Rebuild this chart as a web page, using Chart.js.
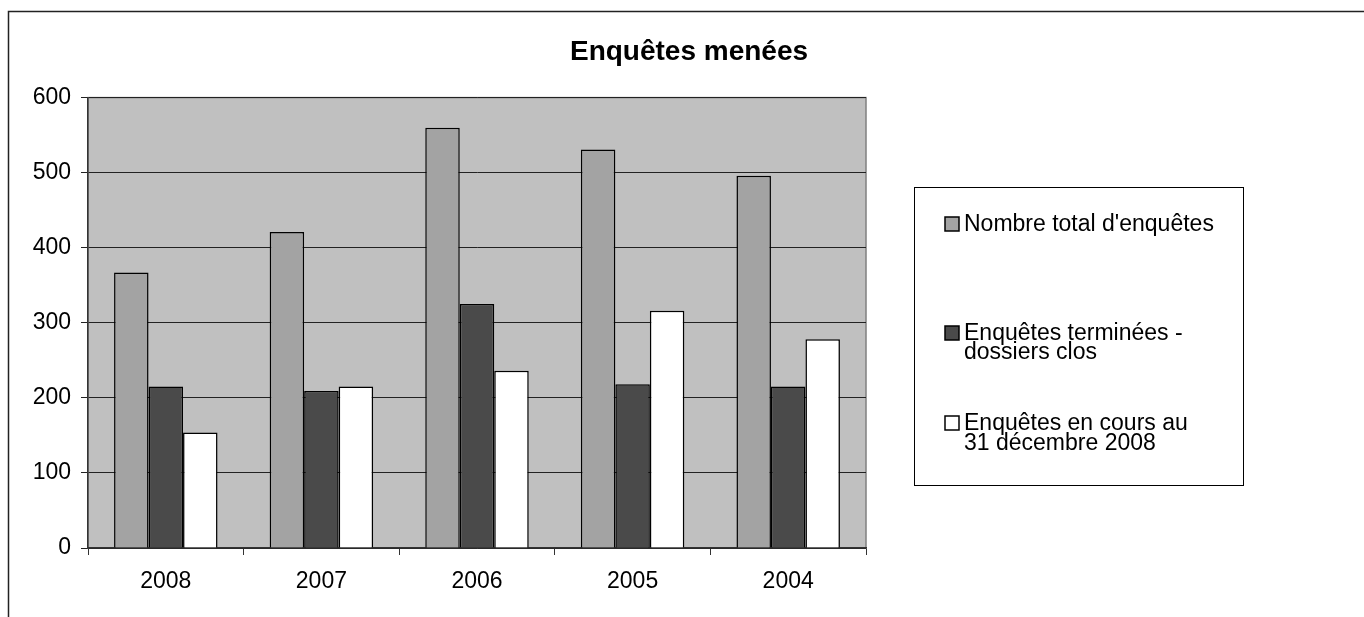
<!DOCTYPE html>
<html>
<head>
<meta charset="utf-8">
<script src="https://cdn.jsdelivr.net/npm/chart.js@4/dist/chart.umd.min.js"></script>
<style>
  html, body { margin: 0; padding: 0; background: #fff; }
  #wrap { width: 1364px; height: 617px; }
</style>
</head>
<body>
<div id="wrap"><canvas id="chart" width="1364" height="617"></canvas></div>
<script>
// Données
const categories = ['2008', '2007', '2006', '2005', '2004'];
const totalEnquetes = [367, 421, 560, 531, 496];
const enquetesTerminees = [215, 209, 325, 218, 215];
const enquetesEnCours = [154, 215, 236, 316, 278];
const yTicks = [0, 100, 200, 300, 400, 500, 600];
const legendLines = [
  ["Nombre total d'enquêtes"],
  ['Enquêtes terminées -', 'dossiers clos'],
  ['Enquêtes en cours au', '31 décembre 2008']
];

const FONT = '"Liberation Sans", Arial, sans-serif';

// Fond gris de la zone de tracé + cadre extérieur
const plotBg = {
  id: 'plotBg',
  beforeDraw(chart) {
    const { ctx, chartArea: a } = chart;
    ctx.save();
    ctx.fillStyle = '#c0c0c0';
    ctx.fillRect(a.left, a.top, a.right - a.left, a.bottom - a.top);
    ctx.strokeStyle = '#808080';
    ctx.lineWidth = 1.5;
    ctx.strokeRect(a.left, a.top, a.right - a.left, a.bottom - a.top);
    // cadre de la page
    ctx.strokeStyle = '#222';
    ctx.lineWidth = 1.5;
    ctx.beginPath();
    ctx.moveTo(8.5, chart.height);
    ctx.lineTo(8.5, 11.5);
    ctx.lineTo(chart.width, 11.5);
    ctx.stroke();
    ctx.restore();
  }
};

// Légende encadrée à droite, libellés sur plusieurs lignes
const boxLegend = {
  id: 'boxLegend',
  afterDraw(chart) {
    const ctx = chart.ctx;
    const x0 = 914, y0 = 187, w = 329, h = 298;
    const rows = [[224], [333, 352], [423, 443]];
    ctx.save();
    ctx.strokeStyle = '#000';
    ctx.lineWidth = 1;
    ctx.strokeRect(x0 + 0.5, y0 + 0.5, w, h);
    ctx.font = '23px ' + FONT;
    ctx.textBaseline = 'middle';
    chart.data.datasets.forEach((ds, i) => {
      const ys = rows[i];
      ctx.fillStyle = ds.backgroundColor;
      ctx.fillRect(945, ys[0] - 7, 14, 14);
      ctx.strokeStyle = '#000';
      ctx.lineWidth = 1.5;
      ctx.strokeRect(945, ys[0] - 7, 14, 14);
      ctx.fillStyle = '#000';
      legendLines[i].forEach((line, j) => {
        ctx.fillText(line, 964, ys[j] + 1);
      });
    });
    ctx.restore();
  }
};

const chart = new Chart(document.getElementById('chart'), {
  type: 'bar',
  data: {
    labels: categories,
    datasets: [
      {
        label: legendLines[0].join(' '),
        data: totalEnquetes,
        backgroundColor: '#a3a3a3',
        borderColor: '#000',
        borderWidth: 1.5
      },
      {
        label: legendLines[1].join(' '),
        data: enquetesTerminees,
        backgroundColor: '#4a4a4a',
        borderColor: '#000',
        borderWidth: 1.5
      },
      {
        label: legendLines[2].join(' '),
        data: enquetesEnCours,
        backgroundColor: '#ffffff',
        borderColor: '#000',
        borderWidth: 1.5
      }
    ]
  },
  options: {
    responsive: false,
    animation: false,
    categoryPercentage: 0.665,
    barPercentage: 1,
    layout: { padding: { left: 14, right: 0, top: 0, bottom: 0 } },
    plugins: {
      legend: { display: false },
      tooltip: { enabled: false },
      title: {
        display: true,
        text: 'Enquêtes menées',
        color: '#000',
        font: { family: FONT, size: 28, weight: 'bold' },
        padding: { top: 35, bottom: 29 }
      }
    },
    scales: {
      x: {
        grid: {
          offset: true,
          drawOnChartArea: false,
          drawTicks: true,
          tickLength: 7,
          color: '#333'
        },
        border: { color: '#333', width: 1.5 },
        ticks: {
          color: '#000',
          padding: 13,
          font: { family: FONT, size: 23 }
        },
        afterFit(s) { s.height = 69; }
      },
      y: {
        min: 0,
        max: 600,
        afterBuildTicks(s) { s.ticks = yTicks.map(v => ({ value: v })); },
        grid: { color: '#222', tickLength: 7, lineWidth: 1 },
        border: { color: '#333', width: 1.5 },
        ticks: {
          color: '#000',
          padding: 10,
          font: { family: FONT, size: 23 }
        },
        afterFit(s) { s.width = 74; }
      },
      y2: {
        position: 'right',
        grid: { display: false },
        border: { display: false },
        ticks: { display: false },
        afterFit(s) { s.width = 498; }
      }
    }
  },
  plugins: [plotBg, boxLegend]
});
</script>
</body>
</html>
